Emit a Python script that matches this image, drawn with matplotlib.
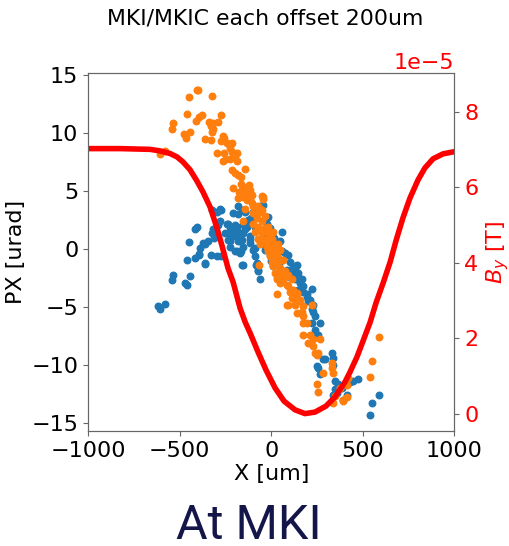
import numpy as np
import matplotlib.pyplot as plt

# field curve, B_y in units of 1e-5 T
curve_x = [-1000, -825, -661, -607, -552, -514, -482, -443, -405, -372, -334, -296,
           -268, -236, -208, -170, -142, -115, -72, -28, 21, 70, 130, 184, 239, 299,
           348, 403, 430, 468, 501, 540, 572, 611, 649, 682, 719, 757, 801, 839, 883,
           937, 1000]
curve_b = [7.02, 7.02, 7.00, 6.96, 6.89, 6.80, 6.67, 6.46, 6.16, 5.87, 5.48, 4.92,
           4.44, 3.86, 3.49, 2.80, 2.43, 2.14, 1.64, 1.16, 0.69, 0.34, 0.11, 0.01,
           0.05, 0.21, 0.45, 0.85, 1.11, 1.51, 1.93, 2.43, 2.94, 3.47, 4.02, 4.60,
           5.19, 5.71, 6.19, 6.51, 6.75, 6.88, 6.94]

# MKI kick, (X [um], PX [urad])
mki_pts = [
    (-618, -4.9), (-608, -5.2), (-578, -4.7), (-536, -2.2), (-540, -2.7), (-472, -2.9),
    (-459, -3.1), (-445, -2.3), (-461, -0.9), (-414, -0.8), (-396, -0.5), (-363, -1.3),
    (-450, 0.6), (-414, 1.7), (-403, 1.9), (-372, 0.5), (-390, 0.1), (-345, 0.7),
    (-330, -0.5), (-294, -0.6), (-276, -0.6), (-321, 1.4), (-312, 1.0), (-290, 2.1),
    (-281, 2.4), (-272, 3.4), (-281, 3.5), (-323, 3.4), (-240, 2.2), (-236, 1.4),
    (-208, 3.1), (-199, 2.1), (-218, 1.7), (-190, 1.1), (-163, 1.4), (-172, 0.7),
    (-199, -0.2), (-163, -0.2), (-154, -1.4), (-226, 0.7), (-181, 3.0), (-154, 2.2),
    (-127, 2.5), (-145, 1.7), (-117, 0.9), (-90, 0.1), (-81, -1.4), (-63, -2.6),
    (-72, -1.9), (-90, -0.6), (-112, 2.7), (-90, 1.9), (-145, 3.2), (-72, 3.2),
    (-361, 0.4), (-392, -0.4), (-361, -1.2), (-225, 1.9), (-252, 1.4), (-188, 1.5),
    (-207, 1.1), (-234, 0.8), (-180, 0.7), (-152, 1.4), (-134, 1.9), (-116, 1.1),
    (-152, 0.2), (-188, -0.2), (-170, -0.3), (-116, 0.5), (-225, 0.2), (-161, -1.4),
    (-98, -0.1), (-79, -1.2), (-70, -1.8), (-161, 3.4), (-98, 3.2), (-180, 3.7),
    (-43, 3.8), (-297, 3.2), (-316, 1.7), (-234, 2.2), (-188, 1.9), (-161, 0.8),
    (57, 1.5), (48, 0.7), (57, -0.2), (93, -0.5), (103, -1.1), (121, -1.5),
    (139, -2.2), (130, -2.6), (157, -2.9), (148, -3.5), (175, -3.7), (221, -3.4),
    (194, -4.1), (202, -4.5), (230, -4.8), (221, -5.2), (266, -6.4), (239, -7.0),
    (257, -7.4), (330, -9.0), (336, -9.4), (281, -9.5), (252, -10.1), (348, -11.4),
    (366, -11.6), (385, -12.0), (348, -12.1), (339, -12.6), (357, -12.4), (412, -12.6),
    (475, -11.2), (539, -14.3), (548, -13.3), (588, -12.6), (403, -11.6), (430, -11.5),
    (448, -11.4), (393, -13.0), (339, -10.0), (-61, 3.7), (-25, 2.2), (39, 0.5),
    (75, -0.3), (139, -1.4), (130, -1.6), (121, -2.1), (148, -2.1), (166, -2.6),
    (139, -2.6), (175, -3.2), (194, -3.9), (212, -4.4), (66, -2.6), (48, -2.2),
    (11, -1.5), (-7, -0.5), (-34, -0.1), (3, 0.7), (30, -0.9), (230, -5.4),
    (239, -5.8), (221, -6.4), (248, -7.5), (294, -9.5), (257, -10.3), (266, -10.8),
    (-20, 2.8), (-5, 1.8), (15, 1.0), (-50, 0.5), (-30, 1.2), (25, -0.3),
    (0, -1.0), (40, -1.2), (85, -1.8), (100, -2.4),
]

# MKIC kick
mkic_pts = [
    (-407, 13.7), (-398, 13.7), (-447, 13.1), (-323, 13.2), (-461, 11.7), (-379, 11.6),
    (-392, 11.4), (-410, 11.1), (-276, 11.6), (-538, 10.9), (-541, 10.4), (-338, 11.0),
    (-316, 10.9), (-289, 11.0), (-330, 10.6), (-319, 10.4), (-443, 10.1), (-476, 9.9),
    (-465, 9.6), (-325, 10.1), (-265, 9.8), (-258, 9.6), (-361, 9.5), (-329, 9.4),
    (-276, 9.3), (-240, 9.2), (-216, 9.2), (-607, 8.2), (-580, 8.5), (-297, 8.3),
    (-258, 8.3), (-225, 8.7), (-216, 8.4), (-185, 8.3), (-247, 7.8), (-265, 7.6),
    (-225, 7.8), (-198, 8.0), (-188, 7.6), (-216, 6.8), (-198, 6.6), (-143, 6.9),
    (-180, 6.4), (-166, 6.2), (-207, 5.3), (-166, 5.6), (-152, 5.4), (-120, 5.5),
    (-174, 4.9), (-134, 5.0), (-125, 4.5), (-156, 4.5), (-106, 4.7), (-46, 4.5),
    (-180, 4.4), (-116, 4.3), (-98, 3.7), (-161, 5.1), (-116, 5.1), (-152, 4.7),
    (-52, 4.6), (-134, 4.2), (-106, 4.0), (-143, 3.5), (-70, 3.7), (-98, 3.1),
    (-65, 3.2), (-34, 2.9), (-79, 2.7), (-152, 2.4), (-98, 2.2), (-52, 2.4),
    (-70, 1.9), (-34, 1.8), (-88, 1.5), (-52, 1.4), (-16, 1.4), (-70, 0.9),
    (-34, 0.8), (3, 0.9), (-61, 0.4), (-25, 0.2), (11, 0.2), (39, 0.4),
    (-16, -0.2), (21, -0.2), (48, -0.1), (-7, -0.6), (30, -0.6), (3, -1.1),
    (39, -1.1), (66, -0.9), (-65, -1.4), (11, -1.5), (48, -1.6), (21, -2.1),
    (57, -2.1), (30, -2.6), (75, -2.4), (48, -2.9), (30, -3.9), (93, -3.2),
    (103, -3.7), (121, -4.1), (139, -3.8), (93, -4.8), (130, -4.8), (148, -4.5),
    (139, -5.5), (166, -5.4), (175, -5.8), (194, -6.4), (175, -7.4), (212, -7.4),
    (202, -8.1), (230, -7.8), (230, -8.4), (239, -9.0), (257, -9.0), (284, -10.7),
    (330, -9.8), (330, -10.3), (339, -10.7), (248, -11.6), (257, -12.3), (412, -11.7),
    (375, -12.0), (393, -13.0), (412, -12.8), (339, -13.3), (548, -9.7), (539, -11.0),
    (588, -7.6), (85, -4.8), (175, -6.4), (221, -4.8), (266, -7.8), (248, -9.1),
    (348, -12.7), (421, -11.1), (390, -13.1), (-52, 3.4), (-7, 1.1), (11, 1.5),
    (-25, 0.5), (21, 0.4), (3, -0.3), (39, -0.8), (48, -1.8), (75, -1.9),
    (93, -2.2), (30, -2.4), (66, -2.6), (112, -2.6), (85, -3.1), (121, -3.5),
    (139, -3.9), (112, -4.2), (157, -4.4), (130, -4.7), (175, -4.9), (-43, 4.3),
    (-61, 3.5), (-16, 1.9), (-43, 0.8),
]

mki = np.array(mki_pts)
mkic = np.array(mkic_pts)

fig = plt.figure(figsize=(5.1, 5.46), dpi=100)
ax = fig.add_axes([0.1725, 0.2106, 0.7186, 0.6557])
ax.scatter(mki[:, 0], mki[:, 1], s=22, color='#1f77b4')
ax.scatter(mkic[:, 0], mkic[:, 1], s=22, color='#ff7f0e')
ax.set_xlim(-1000, 1000)
ax.set_ylim(-15.7, 15.2)
ax.set_xticks([-1000, -500, 0, 500, 1000])
ax.set_yticks(range(-15, 16, 5))
ax.tick_params(labelsize=16)
ax.set_xlabel('X [um]', fontsize=16, labelpad=2)
ax.set_ylabel('PX [urad]', fontsize=16)

ax2 = ax.twinx()
ax2.plot(curve_x, np.array(curve_b) * 1e-5, color='red', lw=4)
ax2.set_ylim(-0.45e-5, 9.02e-5)
ax2.tick_params(labelsize=16, labelcolor='red')
ax2.yaxis.get_offset_text().set(color='red', fontsize=16)
ax2.set_ylabel('$B_y$ [T]', color='red', fontsize=16)

for a in (ax, ax2):
    for sp in a.spines.values():
        sp.set_color('0.4')
    a.tick_params(color='0.4')

fig.text(0.519, 1 - 25 / 546, 'MKI/MKIC each offset 200um',
         ha='center', va='baseline', fontsize=15.8)
fig.text(0.488, 1 - 503 / 546, 'At MKI', ha='center', va='top',
         fontsize=35, color='#14164a', family='Roboto')

fig.savefig('out.png', dpi=100)
